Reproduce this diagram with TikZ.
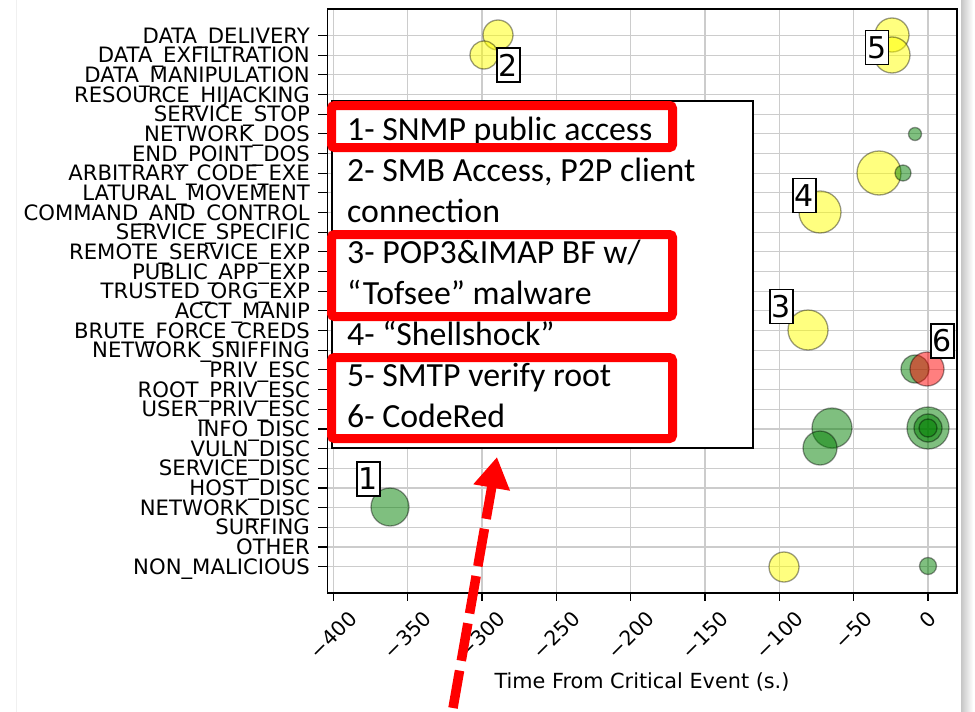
\documentclass[tikz,border=0pt]{standalone}
\usepackage{fontspec}
\usetikzlibrary{arrows.meta}
\newfontfamily\plotfont{DejaVu Sans}
\newfontfamily\notefont{Carlito}
\definecolor{gridgray}{HTML}{CCCCCC}
\definecolor{bubyellow}{HTML}{FFFF00}
\definecolor{bubgreen}{HTML}{008000}
\definecolor{bubred}{HTML}{FF0000}
\definecolor{markred}{HTML}{FF0000}

\begin{document}
\begin{tikzpicture}[x=1pt,y=-1pt,
  gridline/.style={draw=gridgray,line width=1.2pt},
  tickmark/.style={draw=black,line width=1.2pt},
  axisframe/.style={draw=black,line width=1.4pt},
  bubble/.style={draw=black,draw opacity=0.4,line width=1.3pt,fill opacity=0.5},
  ylab/.style={anchor=base east,inner sep=0pt,font=\plotfont\fontsize{21.2}{24}\selectfont},
  xlab/.style={rotate=45,inner sep=0pt,font=\plotfont\fontsize{20.4}{24}\selectfont},
  notetext/.style={anchor=base west,inner sep=0pt,font=\notefont\fontsize{33.8}{40}\selectfont},
  markbox/.style={draw=markred,line width=9pt,rounded corners=3pt},
  numbox/.style={draw=black,fill=white,line width=1.2pt,minimum width=23pt,minimum height=34pt,
    inner sep=0pt,font=\plotfont\fontsize{30}{30}\selectfont},
  pointer/.style={draw=markred,line width=9.5pt,dash pattern=on 38pt off 10pt,
    -{Triangle[length=31pt,width=35pt]}}]
\useasboundingbox (0,0) rectangle (975,712);
\fill[white] (0,0) rectangle (975,712);

% slide edges
\draw[gray!12,line width=1pt] (16,0) -- (16,712);
\shade[left color=gray!45,right color=white] (961,0) rectangle (973,712);

% grid
\foreach \t in {-400,-350,...,0}
  \draw[gridline] ({928+1.487*\t},9) -- ({928+1.487*\t},593);
\foreach \i in {0,...,27}
  \draw[gridline] (328,{35.5+19.67*\i}) -- (957,{35.5+19.67*\i});

% bubbles: yellow
\foreach \cx/\cy/\r in {498/35/15, 484/55/14, 892/35/17, 892/55/18, 879/173/22,
    820/212/21, 808/330/20, 784/567/15}
  \filldraw[bubble,fill=bubyellow] (\cx,\cy) circle[radius=\r pt];
% bubbles: green
\foreach \cx/\cy/\r in {915/134/6.5, 903/173/8, 915/369/14, 832/428/20, 820/448/17,
    928/428/21, 928/428/14, 928/428/9, 390/507/19, 928/566/8.5}
  \filldraw[bubble,fill=bubgreen] (\cx,\cy) circle[radius=\r pt];
% bubbles: red
\filldraw[bubble,fill=bubred] (927,369) circle[radius=17pt];

% axes frame and ticks
\draw[axisframe] (327.5,9) rectangle (957,593);
\foreach \i in {0,...,27}
  \draw[tickmark] (318,{35.5+19.67*\i}) -- (327.5,{35.5+19.67*\i});
\foreach \t in {-400,-350,...,0}
  \draw[tickmark] ({928+1.487*\t},593) -- ({928+1.487*\t},601);

% category labels
\foreach \name [count=\i from 0] in {DATA\_DELIVERY, DATA\_EXFILTRATION, DATA\_MANIPULATION,
    RESOURCE\_HIJACKING, SERVICE\_STOP, NETWORK\_DOS, END\_POINT\_DOS, ARBITRARY\_CODE\_EXE,
    LATURAL\_MOVEMENT, COMMAND\_AND\_CONTROL, SERVICE\_SPECIFIC, REMOTE\_SERVICE\_EXP,
    PUBLIC\_APP\_EXP, TRUSTED\_ORG\_EXP, ACCT\_MANIP, BRUTE\_FORCE\_CREDS, NETWORK\_SNIFFING,
    PRIV\_ESC, ROOT\_PRIV\_ESC, USER\_PRIV\_ESC, INFO\_DISC, VULN\_DISC, SERVICE\_DISC,
    HOST\_DISC, NETWORK\_DISC, SURFING, OTHER, NON\_MALICIOUS}
  \node[ylab] (cat\i) at (310,{35.5+19.67*\i+7.7}) {\name};

% time labels
\foreach \t/\lbl/\cy in {-400/−400/635, -350/−350/635, -300/−300/635, -250/−250/635,
    -200/−200/635, -150/−150/635, -100/−100/635, -50/−50/630.5, 0/0/619.8}
  \node[xlab] (tl\t) at ({928+1.487*\t},\cy) {\lbl};
\node[anchor=base,inner sep=0pt,font=\plotfont\fontsize{20.8}{24}\selectfont] (xtitle)
  at (642,688) {Time From Critical Event (s.)};

% notes box
\node[draw=black,fill=white,line width=1.4pt,minimum width=421pt,minimum height=347pt,
  inner sep=0pt] (notes) at (542.5,274.5) {};
\node[notetext] (note1) at (347,140) {1- SNMP public access};
\node[notetext] (note2) at (347,181) {2- SMB Access, P2P client};
\node[notetext] (note2b) at (347,222) {connection};
\node[notetext] (note3) at (347,263) {3- POP3\&IMAP BF w/};
\node[notetext] (note3b) at (347,304) {“Tofsee” malware};
\node[notetext] (note4) at (347,345) {4- “Shellshock”};
\node[notetext] (note5) at (347,386) {5- SMTP verify root};
\node[notetext] (note6) at (347,427) {6- CodeRed};

% highlight frames
\draw[markbox] (331.5,105.5) rectangle (672.5,147.5);
\draw[markbox] (331.5,234.5) rectangle (672.5,316.5);
\draw[markbox] (331.5,357.5) rectangle (672.5,438.5);

% numbered tags
\node[numbox] (tag1) at (368.5,479) {1};
\node[numbox] (tag2) at (508.5,65) {2};
\node[numbox] (tag3) at (781.5,306.5) {3};
\node[numbox] (tag4) at (804.5,195.5) {4};
\node[numbox] (tag5) at (877,47.5) {5};
\node[numbox] (tag6) at (942.5,341) {6};

% pointer arrow
\coordinate (arrowtail) at (453,708);
\coordinate (arrowtip) at (497,457);
\draw[pointer] (arrowtail) -- (arrowtip);
\end{tikzpicture}
\end{document}
